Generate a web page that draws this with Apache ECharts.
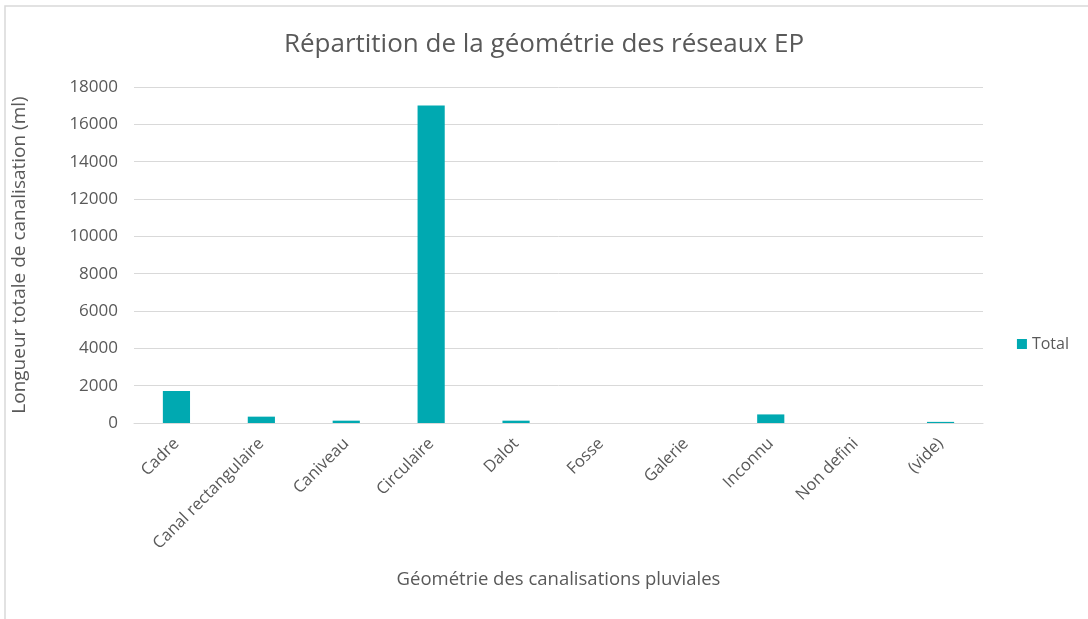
<!DOCTYPE html>
<html>
<head>
<meta charset="utf-8">
<script src="https://cdn.jsdelivr.net/npm/echarts@6/dist/echarts.min.js"></script>
<style>
  html, body { margin: 0; padding: 0; background: #fff; }
  #chart { width: 1088px; height: 619px; }
</style>
</head>
<body>
<div id="chart"></div>
<script>
// Longueur totale (ml) par géométrie de canalisation pluviale
const categories = ['Cadre', 'Canal rectangulaire', 'Caniveau', 'Circulaire', 'Dalot',
                    'Fosse', 'Galerie', 'Inconnu', 'Non defini', '(vide)'];
const totals = [1720, 340, 125, 17010, 125, 0, 0, 460, 0, 60];
const yTicks = { min: 0, max: 18000, interval: 2000 };

const FONT = '"Open Sans", "Liberation Sans", sans-serif';
const TEXT = '#595959';
const BAR = '#00a9b1';

const chart = echarts.init(document.getElementById('chart'), null, { renderer: 'canvas' });
chart.setOption({
  backgroundColor: '#ffffff',
  animation: false,
  graphic: [{
    type: 'rect',
    shape: { x: 5, y: 6, width: 1100, height: 640 },
    style: { fill: 'none', stroke: '#d9d9d9', lineWidth: 1.5 },
    silent: true, z: -1
  }],
  title: {
    text: 'Répartition de la géométrie des réseaux EP',
    left: 'center',
    top: 27,
    textStyle: { fontFamily: FONT, fontSize: 26, fontWeight: 'normal', color: TEXT }
  },
  legend: {
    data: ['Total'],
    right: 14,
    top: 331,
    orient: 'vertical',
    icon: 'rect',
    itemWidth: 10,
    itemHeight: 10,
    itemGap: 6,
    textStyle: { fontFamily: FONT, fontSize: 16, color: TEXT }
  },
  grid: { left: 134, right: 105, top: 87, bottom: 196, containLabel: false },
  xAxis: {
    type: 'category',
    data: categories,
    name: 'Géométrie des canalisations pluviales',
    nameLocation: 'middle',
    nameGap: 147,
    nameTextStyle: { fontFamily: FONT, fontSize: 18.5, color: TEXT },
    axisLine: { show: true, lineStyle: { color: '#d9d9d9', width: 1 } },
    axisTick: { show: false },
    axisLabel: { rotate: 45, margin: 18, fontFamily: FONT, fontSize: 16.5, color: TEXT, interval: 0 }
  },
  yAxis: {
    type: 'value',
    min: yTicks.min,
    max: yTicks.max,
    interval: yTicks.interval,
    name: 'Longueur totale de canalisation (ml)',
    nameLocation: 'middle',
    nameGap: 105,
    nameRotate: 90,
    nameTextStyle: { fontFamily: FONT, fontSize: 19, color: TEXT },
    axisLine: { show: false },
    axisTick: { show: false },
    axisLabel: {
      margin: 16, fontFamily: FONT, fontSize: 17, color: TEXT,
      formatter: v => String(v)
    },
    splitLine: { lineStyle: { color: '#d9d9d9', width: 1 } }
  },
  series: [{
    name: 'Total',
    type: 'bar',
    data: totals,
    barWidth: '32%',
    itemStyle: { color: BAR }
  }]
});
</script>
</body>
</html>
